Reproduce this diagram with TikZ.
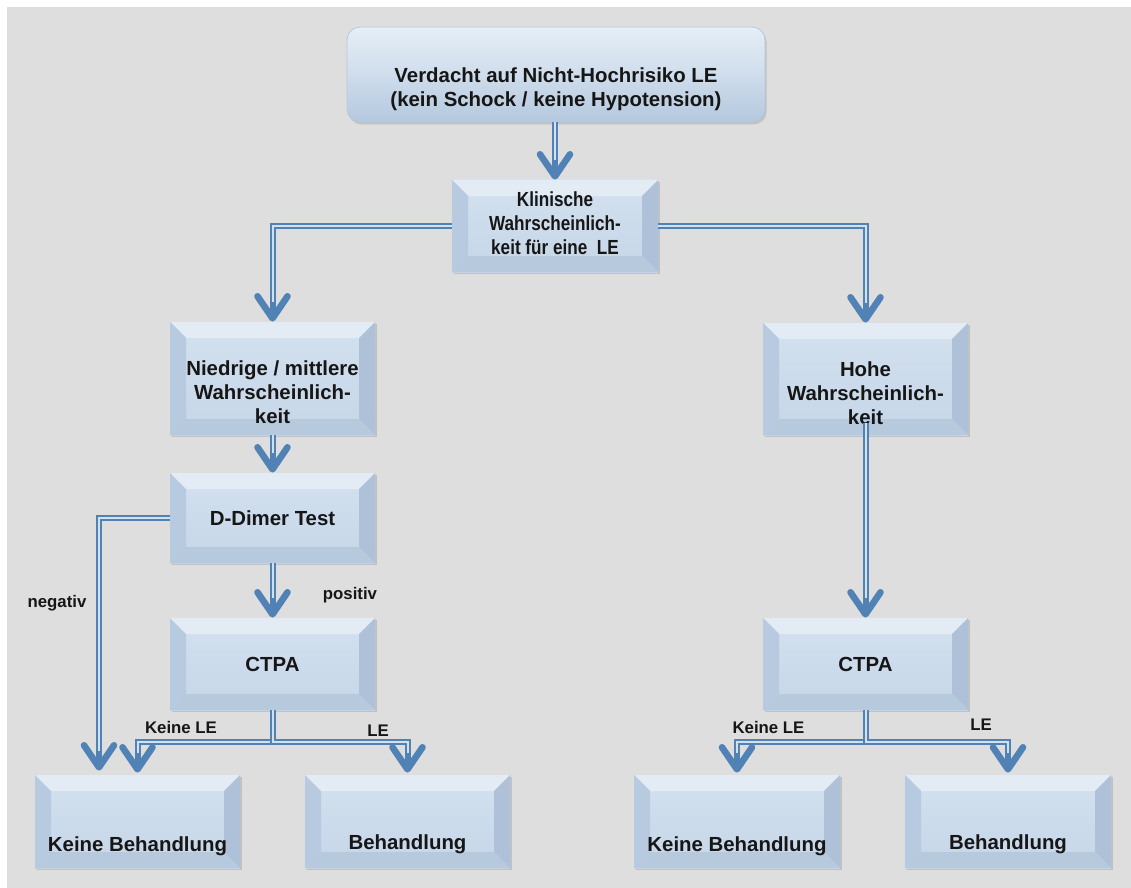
\documentclass[tikz,border=0pt]{standalone}
\usepackage{fontspec}
\setmainfont{Liberation Sans}
\usetikzlibrary{arrows.meta,shadows,calc}
\definecolor{bg}{HTML}{DEDEDE}
\definecolor{lnblue}{HTML}{5082B5}
\definecolor{lninner}{HTML}{D3E0EE}
\definecolor{facetop}{HTML}{D3E1EF}
\definecolor{facebot}{HTML}{C6D6E8}
\definecolor{bvtop}{HTML}{E3ECF5}
\definecolor{bvleft}{HTML}{B8CADF}
\definecolor{bvright}{HTML}{AEC1D8}
\definecolor{bvbot}{HTML}{B7C9DD}
\definecolor{txt}{HTML}{161616}
\definecolor{tbtop}{HTML}{E6EEF6}
\definecolor{tbmid}{HTML}{CFDDEC}
\definecolor{tbbot}{HTML}{B4C8DE}
\begin{document}
\begin{tikzpicture}[x=0.5pt, y=-0.5pt,
  boxtext/.style={font=\fontsize{10.2}{12}\selectfont\bfseries, text=txt, align=center, inner sep=0pt},
  small/.style={font=\fontsize{8.4}{10}\selectfont\bfseries, text=txt, inner sep=0pt},
  bevelbox/.style={rectangle, inner sep=0pt, draw=none,
    top color=facetop, bottom color=facebot,
    drop shadow={shadow xshift=0.8pt, shadow yshift=-1.2pt, opacity=0.3},
    path picture={
      \fill[bvtop] (path picture bounding box.north west) -- (path picture bounding box.north east)
        -- ([xshift=-8pt,yshift=-8pt]path picture bounding box.north east)
        -- ([xshift=8pt,yshift=-8pt]path picture bounding box.north west) -- cycle;
      \fill[bvleft] (path picture bounding box.north west) -- (path picture bounding box.south west)
        -- ([xshift=8pt,yshift=8pt]path picture bounding box.south west)
        -- ([xshift=8pt,yshift=-8pt]path picture bounding box.north west) -- cycle;
      \fill[bvright] (path picture bounding box.north east) -- (path picture bounding box.south east)
        -- ([xshift=-8pt,yshift=8pt]path picture bounding box.south east)
        -- ([xshift=-8pt,yshift=-8pt]path picture bounding box.north east) -- cycle;
      \fill[bvbot] (path picture bounding box.south west) -- (path picture bounding box.south east)
        -- ([xshift=-8pt,yshift=8pt]path picture bounding box.south east)
        -- ([xshift=8pt,yshift=8pt]path picture bounding box.south west) -- cycle;
    }},
  topbox/.style={rectangle, rounded corners=6.5pt, inner sep=0pt, draw=tbbot, line width=0.4pt,
    top color=tbtop, bottom color=tbbot, middle color=tbmid,
    drop shadow={shadow xshift=0.8pt, shadow yshift=-1.2pt, opacity=0.3}},
  conn/.style={draw=lnblue, line width=3pt,
    -{Straight Barb[length=11pt, width=15pt, line width=3.3pt, round]},
    postaction={draw=lninner, line width=1pt, -, shorten >=10pt}}
]
\useasboundingbox (0,0) rectangle (1131,888);
\fill[bg] (7,7) rectangle (1131,888);

% nodes
\node[topbox, minimum width=209pt, minimum height=47.5pt,
  label={[boxtext, yshift=-7.5pt]center:{Verdacht auf Nicht-Hochrisiko LE\\(kein Schock / keine Hypotension)}}] (top) at (556,74.5) {};
\node[bevelbox, minimum width=103pt, minimum height=46pt,
  label={[boxtext]center:{\scalebox{0.84}[1]{\begin{tabular}{@{}c@{}}Klinische\\Wahrscheinlich-\\keit für eine\ \ LE\end{tabular}}}}] (klin) at (555,226) {};
\node[bevelbox, minimum width=102.5pt, minimum height=56.5pt,
  label={[boxtext, yshift=-7pt]center:{Niedrige / mittlere\\Wahrscheinlich-\\keit}}] (nied) at (272.5,378.5) {};
\node[bevelbox, minimum width=102.5pt, minimum height=56pt,
  label={[boxtext, yshift=-7pt]center:{Hohe\\Wahrscheinlich-\\keit}}] (hohe) at (865.5,379) {};
\node[bevelbox, minimum width=102.5pt, minimum height=45pt,
  label={[boxtext]center:{D-Dimer Test}}] (ddim) at (272.5,518) {};
\node[bevelbox, minimum width=102.5pt, minimum height=46pt,
  label={[boxtext]center:{CTPA}}] (ctpaL) at (272.5,664) {};
\node[bevelbox, minimum width=102.5pt, minimum height=46pt,
  label={[boxtext]center:{CTPA}}] (ctpaR) at (865.5,664) {};
\node[bevelbox, minimum width=102.5pt, minimum height=46.5pt,
  label={[boxtext, yshift=-12.5pt]center:{Keine Behandlung}}] (kbL) at (137.5,821.5) {};
\node[bevelbox, minimum width=102.5pt, minimum height=46.5pt,
  label={[boxtext, yshift=-11.5pt]center:{Behandlung}}] (bL) at (407.5,821.5) {};
\node[bevelbox, minimum width=103pt, minimum height=46.5pt,
  label={[boxtext, yshift=-12.5pt]center:{Keine Behandlung}}] (kbR) at (737,821.5) {};
\node[bevelbox, minimum width=103pt, minimum height=46.5pt,
  label={[boxtext, yshift=-11.5pt]center:{Behandlung}}] (bR) at (1008,821.5) {};

% connectors
\draw[conn] (klin.north |- top.south) -- (klin.north);
\draw[conn] (klin.west) -| (nied.north);
\draw[conn] (klin.east) -| (hohe.north);
\draw[conn] (nied.south) -- (ddim.north);
\draw[conn] ([yshift=6pt]hohe.south) -- (ctpaR.north);
\draw[conn] (ddim.south) -- (ctpaL.north);
\draw[conn] (ddim.west) -| ([xshift=-19.25pt,yshift=2pt]kbL.north);
\draw[conn] (ctpaL.south) -- ++(0,32) -| ([yshift=1pt]kbL.north);
\draw[conn] (ctpaL.south) -- ++(0,32) -| ([yshift=1pt]bL.north);
\draw[conn] (ctpaR.south) -- ++(0,32) -| ([yshift=1pt]kbR.north);
\draw[conn] (ctpaR.south) -- ++(0,32) -| ([yshift=1pt]bR.north);

% labels
\node[small] (lneg) at (57,603) {negativ};
\node[small] (lpos) at (350,595) {positiv};
\node[small] (lkL) at (181,727) {Keine LE};
\node[small] (lleL) at (378,731) {LE};
\node[small] (lkR) at (768.5,727) {Keine LE};
\node[small] (lleR) at (981,725) {LE};
\end{tikzpicture}
\end{document}
